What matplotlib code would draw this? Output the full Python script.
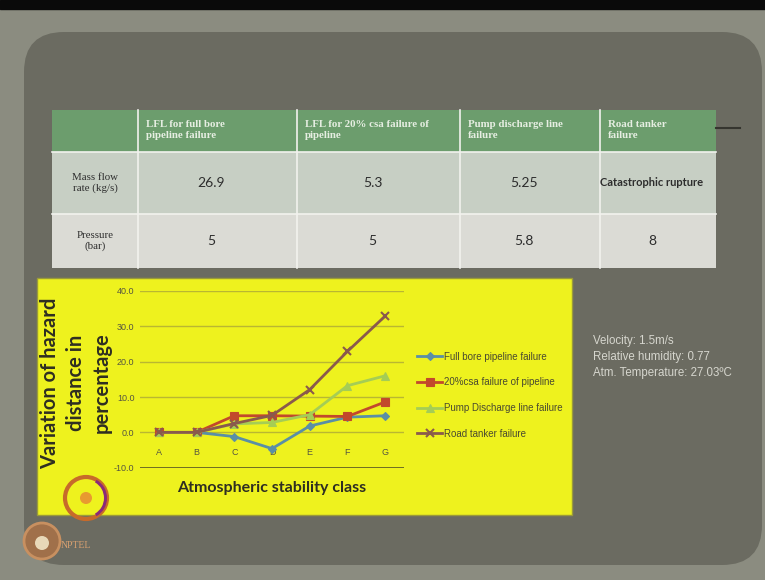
import matplotlib
matplotlib.use("Agg")
import matplotlib.pyplot as plt
from matplotlib.patches import Rectangle, FancyBboxPatch, Circle, Wedge

# ---- data ----
categories = ["A", "B", "C", "D", "E", "F", "G"]
full_bore = [0.0, 0.0, -1.2, -4.6, 1.8, 4.3, 4.7]
csa_20 = [0.0, 0.0, 4.7, 4.7, 4.6, 4.5, 8.6]
pump_discharge = [0.0, 0.0, 2.4, 2.8, 5.0, 13.2, 16.0]
road_tanker = [0.0, 0.0, 2.5, 4.8, 12.1, 22.9, 32.9]
series_labels = ["Full bore pipeline failure", "20%csa failure of pipeline",
                 "Pump Discharge line failure", "Road tanker failure"]
y_ticks = [-10, 0, 10, 20, 30, 40]

table_columns = ["LFL for full bore\npipeline failure", "LFL for 20% csa failure of\npipeline",
                 "Pump discharge line\nfailure", "Road tanker\nfailure"]
table_rows = ["Mass flow\nrate (kg/s)", "Pressure\n(bar)"]
mass_flow = ["26.9", "5.3", "5.25", "Catastrophic rupture"]
pressure = ["5", "5", "5.8", "8"]

conditions = ["Velocity: 1.5m/s", "Relative humidity: 0.77", "Atm. Temperature: 27.03\u00baC"]

W, H = 765, 580
fig = plt.figure(figsize=(W / 100, H / 100), dpi=100)
fig.patch.set_facecolor("#8b8c80")

# background canvas in pixel coordinates
bg = fig.add_axes([0, 0, 1, 1], zorder=0)
bg.set_xlim(0, W)
bg.set_ylim(H, 0)
bg.axis("off")

bg.add_patch(Rectangle((0, 0), W, 9, color="#0a0a0a"))
bg.add_patch(FancyBboxPatch((24, 32), 738, 533,
                            boxstyle="round,pad=0,rounding_size=40",
                            linewidth=0, facecolor="#6b6b61"))

# ---- table ----
col_x = [52, 138, 297, 460, 600, 716]
row_y = [110, 152, 214, 268]
row_colors = ["#6c9d6d", "#c7cfc4", "#dbdbd5"]
for r in range(3):
    bg.add_patch(Rectangle((col_x[0], row_y[r]), col_x[-1] - col_x[0],
                           row_y[r + 1] - row_y[r], facecolor=row_colors[r],
                           edgecolor="none", zorder=1))
for x in col_x[1:-1]:
    bg.plot([x, x], [row_y[0], row_y[-1]], color="#f2f2ee", lw=1.2, zorder=2)
for y in row_y[1:-1]:
    bg.plot([col_x[0], col_x[-1]], [y, y], color="#f2f2ee", lw=1.2, zorder=2)
bg.plot([716, 740], [128, 128], color="#35352f", lw=1.5, zorder=2)

for i, txt in enumerate(table_columns):
    bg.text(col_x[i + 1] + 8, (row_y[0] + row_y[1]) / 2 - 1, txt, ha="left", va="center",
            fontsize=7.8, family="Liberation Serif", fontweight="bold",
            color="#e6eee2", linespacing=1.3, zorder=3)
for r, (lab, vals) in enumerate(zip(table_rows, [mass_flow, pressure])):
    yc = (row_y[r + 1] + row_y[r + 2]) / 2
    bg.text((col_x[0] + col_x[1]) / 2, yc, lab, ha="center", va="center",
            fontsize=7.8, family="Liberation Serif", color="#2d2d2d",
            linespacing=1.3, zorder=3)
    for c, v in enumerate(vals):
        bold = not v.replace(".", "").isdigit()
        bg.text((col_x[c + 1] + col_x[c + 2]) / 2 - 6, yc, v, ha="center",
                va="center", fontsize=8 if bold else 10, family="Lato",
                fontweight="bold" if bold else "normal", color="#2d2d2d", zorder=3)

# ---- yellow chart panel ----
bg.add_patch(Rectangle((37, 278), 535, 237, facecolor="#eef21e",
                       edgecolor="#9a9a3a", lw=1, zorder=1))

for i, txt in enumerate(conditions):
    bg.text(593, 341 + i * 16, txt, ha="left", va="center", fontsize=8.3,
            family="Liberation Sans", color="#d6d6ce", zorder=3)

# institute logos
bg.add_patch(Circle((86, 498), 21, facecolor="none", edgecolor="#c76a2a",
                    lw=3, zorder=3))
bg.add_patch(Wedge((86, 498), 21, 300, 60, width=3, facecolor="#8a2a7a",
                   zorder=4))
bg.add_patch(Circle((86, 498), 6, facecolor="#e89a30", edgecolor="none", zorder=4))
bg.add_patch(Circle((42, 541), 18, facecolor="#a0704a", edgecolor="#c89060",
                    lw=2, zorder=3))
bg.add_patch(Circle((42, 543), 7, facecolor="#e8d8b8", edgecolor="none", zorder=4))
bg.text(61, 545, "NPTEL", fontsize=7, family="Liberation Serif",
        color="#d8a070", va="center", zorder=4)

# ---- line chart ----
ax = fig.add_axes([140 / W, 1 - 467.7 / H, 264 / W, 176.7 / H], zorder=2)
ax.set_facecolor("none")
x = list(range(len(categories)))

styles = [
    (full_bore, "#5a8fa6", "D", 4.5),
    (csa_20, "#c2492c", "s", 5.5),
    (pump_discharge, "#a5cd55", "^", 6),
    (road_tanker, "#8a5a4c", "x", 6),
]
handles = []
for (vals, col, mk, ms), lab in zip(styles, series_labels):
    ln, = ax.plot(x, vals, color=col, lw=2, marker=mk, markersize=ms,
                  markeredgewidth=1.5 if mk == "x" else 0.8,
                  markeredgecolor=col, label=lab, zorder=3)
    handles.append(ln)

ax.set_xlim(-0.5, len(categories) - 0.5)
ax.set_ylim(-10, 40)
for s in ["top", "right", "left"]:
    ax.spines[s].set_visible(False)
ax.spines["bottom"].set_position(("data", 0))
ax.spines["bottom"].set_visible(False)
ax.set_yticks(y_ticks)
ax.set_yticklabels([f"{v:.1f}" for v in y_ticks], fontsize=6.5,
                   family="Liberation Sans", color="#555540")
ax.set_xticks(x)
ax.set_xticklabels(categories, fontsize=6.5, family="Liberation Sans",
                   color="#555540")
ax.tick_params(axis="both", length=0)
ax.tick_params(axis="x", pad=11)
ax.tick_params(axis="y", pad=4)
for v in y_ticks:
    if v == -10:
        ax.axhline(v, color="#6e6e22", lw=1.4, zorder=1)
    else:
        ax.axhline(v, color="#b9b732", lw=1, zorder=1)

fig.text(76 / W, 1 - 383 / H, "Variation of hazard\ndistance in\npercentage",
         rotation=90, ha="center", va="center", fontsize=14.5, family="Lato",
         fontweight="bold", color="#2e2e22", linespacing=1.35, zorder=5)
fig.text(272 / W, 1 - 488 / H, "Atmospheric stability class", ha="center",
         va="center", fontsize=11.5, family="Lato", fontweight="bold",
         color="#2e2e22", zorder=5)

leg = fig.legend(handles=handles, loc="upper left",
                 bbox_to_anchor=(412 / W, 1 - 347 / H), frameon=False,
                 prop={"family": "Liberation Sans", "size": 7},
                 labelspacing=1.6, handlelength=2.6, handletextpad=0.2,
                 borderpad=0)
for t in leg.get_texts():
    t.set_color("#4a4a30")

fig.savefig("out.png", dpi=100, facecolor=fig.get_facecolor())
